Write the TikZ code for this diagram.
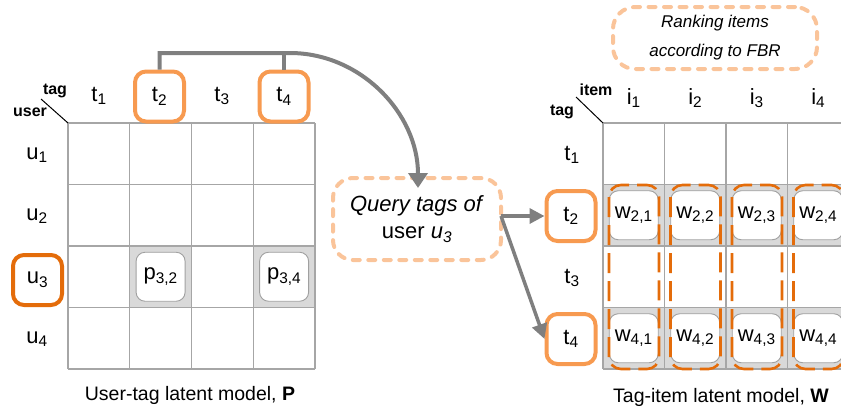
\documentclass[tikz,border=0pt]{standalone}
\usepackage{fontspec}
\setmainfont{Liberation Sans}
\usetikzlibrary{arrows.meta,calc}

\definecolor{gridgray}{HTML}{A6A6A6}
\definecolor{cellshade}{HTML}{D9D9D9}
\definecolor{boxgray}{HTML}{A0A0A0}
\definecolor{lightorange}{HTML}{F79A50}
\definecolor{darkorange}{HTML}{E46C0A}
\definecolor{peach}{HTML}{FAC49A}
\definecolor{arrowgray}{HTML}{7F7F7F}

\newcommand{\sbs}[1]{\textsubscript{#1}}

\begin{document}
\begin{tikzpicture}[x=1pt,y=-1pt,
  lbl/.style={font=\fontsize{22}{24}\selectfont, inner sep=0pt},
  cornerlbl/.style={font=\bfseries\fontsize{16}{18}\selectfont, inner sep=0pt},
  caption/.style={font=\fontsize{19.5}{22}\selectfont, inner sep=0pt},
  gridline/.style={draw=gridgray, line width=1.2pt},
  tagbox/.style={draw=lightorange, line width=4pt, rounded corners=11pt,
    minimum width=49pt, minimum height=50pt, inner sep=0pt,
    font=\fontsize{22}{24}\selectfont},
  userbox/.style={tagbox, draw=darkorange},
  entry/.style={draw=boxgray, line width=0.9pt, fill=white, rounded corners=9pt,
    minimum width=49pt, minimum height=49pt, inner sep=0pt,
    font=\fontsize{22}{24}\selectfont},
  cloud/.style={draw=peach, line width=4pt, line cap=round,
    dash pattern=on 7pt off 8.5pt, align=center, inner sep=0pt},
  coldash/.style={draw=darkorange, line width=2.6pt, rounded corners=12pt,
    dash pattern=on 20pt off 8pt},
  flow/.style={draw=arrowgray, line width=4pt,
    -{Triangle[length=15pt,width=19pt]}},
  flowline/.style={draw=arrowgray, line width=4pt},
  arr/.style={draw=arrowgray, line width=3.5pt, line join=round,
    -{Triangle[length=15pt,width=15pt]}}
]
\useasboundingbox (0,0) rectangle (841,410);
\clip (0,0) rectangle (841,410);

% ---------- user-tag matrix P ----------
\def\cw{61.75}\def\ch{61.5}
% shaded row entries
\fill[cellshade] (129.75,246) rectangle (191.5,307.5);
\fill[cellshade] (253.25,246) rectangle (315,307.5);
% grid lines
\foreach \i in {0,...,4} {
  \draw[gridline] ({68+\i*\cw},123) -- ({68+\i*\cw},369);
  \draw[gridline] (68,{123+\i*\ch}) -- (315,{123+\i*\ch});
}
\draw[line width=1pt] (41,99) -- (68,123);
\node[cornerlbl] (ptag) at (55,91) {tag};
\node[cornerlbl] (puser) at (30,112) {user};

\node[lbl] (ph1) at (99,96) {t\sbs{1}};
\node[tagbox] (t2h) at (159.5,96.5) {t\sbs{2}};
\node[lbl] (ph3) at (222,96) {t\sbs{3}};
\node[tagbox] (t4h) at (284,96.5) {t\sbs{4}};

\node[lbl] (u1) at (37,155) {u\sbs{1}};
\node[lbl] (u2) at (37,216) {u\sbs{2}};
\node[userbox] (u3) at (37.5,280) {u\sbs{3}};
\node[lbl] (u4) at (37,339) {u\sbs{4}};

\node[entry] (p32) at (160.6,276.75) {p\sbs{3,2}};
\node[entry] (p34) at (284.1,276.75) {p\sbs{3,4}};

\node[caption] (capP) at (190,395) {User-tag latent model, \textbf{P}};

% ---------- tag-item matrix W ----------
\foreach \r in {1,3} {
  \fill[cellshade] (603,{123+\r*\ch}) rectangle (849,{123+(\r+1)*\ch});
}
\foreach \i in {0,...,4} {
  \draw[gridline] ({603+\i*61.5},123) -- ({603+\i*61.5},369);
  \draw[gridline] (603,{123+\i*\ch}) -- (849,{123+\i*\ch});
}
\draw[line width=1pt] (576,97) -- (603,123);
\node[cornerlbl] (witem) at (596,90) {item};
\node[cornerlbl] (wtag) at (562,112) {tag};

\foreach \j in {1,...,4} {
  \node[lbl] (i\j) at ({603+(\j-0.5)*61.5},98) {i\sbs{\j}};
}

\node[lbl] (t1r) at (572,155) {t\sbs{1}};
\node[tagbox] (t2r) at (571,216) {t\sbs{2}};
\node[lbl] (t3r) at (572,278) {t\sbs{3}};
\node[tagbox] (t4r) at (571,339) {t\sbs{4}};

\foreach \j in {1,...,4} {
  \node[entry] (w2\j) at ({603+(\j-0.5)*61.5},215.25) {w\sbs{2,\j}};
  \node[entry] (w4\j) at ({603+(\j-0.5)*61.5},338.25) {w\sbs{4,\j}};
}
% candidate item columns
\foreach \j in {1,...,4} {
  \draw[coldash] ({603+(\j-1)*61.5+6},185) rectangle ({603+\j*61.5-5.5},369);
}

\node[caption] (capW) at (721,397) {Tag-item latent model, \textbf{W}};

% ---------- query and ranking notes ----------
\node[cloud, minimum width=168pt, minimum height=82pt, rounded corners=20pt,
  font=\fontsize{22}{27}\selectfont] (qry) at (417,219)
  {\textit{Query tags of}\\user \textit{u}\sbs{\textit{3}}};
\node[cloud, minimum width=204pt, minimum height=62pt, rounded corners=22pt,
  font=\itshape\fontsize{17}{29}\selectfont] (rank) at (715,38)
  {Ranking items\\according to FBR};

% ---------- connectors ----------
\coordinate (bend) at (290,53);
\coordinate (qtip) at (418,188);
\draw[flowline] (t4h.north) -- (t4h.north |- bend);
\draw[flow] (t2h.north) |- (bend) .. controls (360.7,53) and (418,113.5) .. (qtip);

\coordinate (qout) at ($(qry.east)+(-2,-3)$);
\draw[arr] (qout) -- (t2r.west);
\draw[arr] (qout) -- (t4r.west);
\end{tikzpicture}
\end{document}
